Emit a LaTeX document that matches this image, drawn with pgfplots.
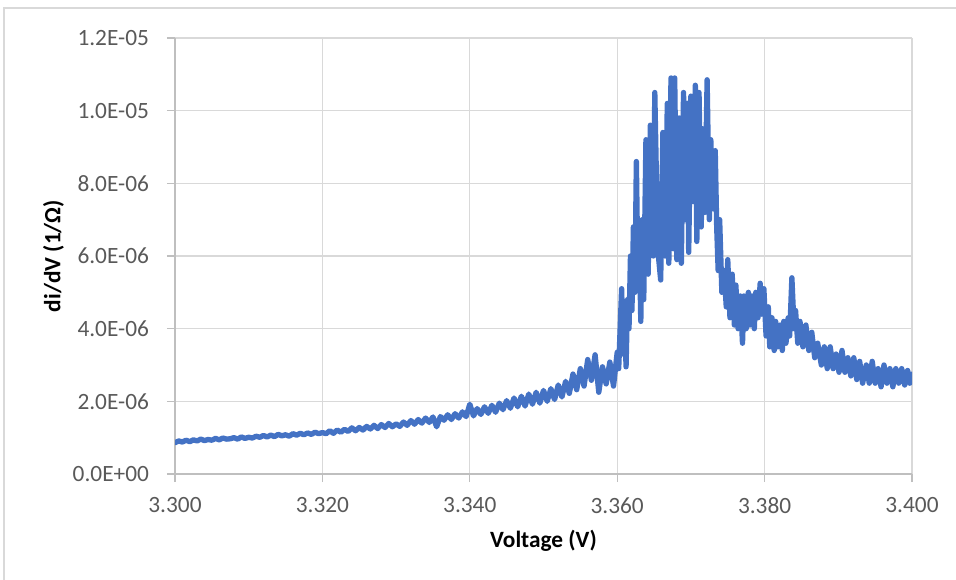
\documentclass[border=0pt]{standalone}
\usepackage{pgfplots}
\pgfplotsset{compat=1.18}
\usepackage{pgfplotstable}
\usepackage{fontspec}
\setmainfont{Carlito}
\definecolor{linebl}{RGB}{68,114,196}
\definecolor{gridc}{RGB}{217,217,217}
\definecolor{axc}{RGB}{191,191,191}
\definecolor{txt}{RGB}{89,89,89}

\pgfplotstableread{
x y
3.3000 0.86
3.3005 0.91
3.3010 0.88
3.3015 0.93
3.3020 0.89
3.3025 0.94
3.3030 0.91
3.3035 0.96
3.3040 0.92
3.3045 0.95
3.3050 0.93
3.3055 0.98
3.3060 0.94
3.3065 0.99
3.3070 0.96
3.3075 0.97
3.3080 1.00
3.3085 0.96
3.3090 1.02
3.3095 0.98
3.3100 1.01
3.3105 0.99
3.3110 1.04
3.3115 1.01
3.3120 1.06
3.3125 1.02
3.3130 1.07
3.3135 1.03
3.3140 1.09
3.3145 1.05
3.3150 1.08
3.3155 1.04
3.3160 1.11
3.3165 1.07
3.3170 1.12
3.3175 1.08
3.3180 1.13
3.3185 1.09
3.3190 1.15
3.3195 1.11
3.3200 1.14
3.3205 1.11
3.3210 1.19
3.3215 1.12
3.3220 1.21
3.3225 1.15
3.3230 1.23
3.3235 1.17
3.3240 1.27
3.3245 1.19
3.3250 1.28
3.3255 1.21
3.3260 1.31
3.3265 1.24
3.3270 1.34
3.3275 1.25
3.3280 1.36
3.3285 1.28
3.3290 1.39
3.3295 1.30
3.3300 1.38
3.3305 1.31
3.3310 1.43
3.3315 1.34
3.3320 1.47
3.3325 1.37
3.3330 1.50
3.3335 1.40
3.3340 1.54
3.3345 1.42
3.3350 1.57
3.3355 1.30
3.3360 1.58
3.3365 1.48
3.3370 1.63
3.3375 1.50
3.3380 1.66
3.3385 1.54
3.3390 1.71
3.3395 1.58
3.3400 1.92
3.3405 1.60
3.3410 1.80
3.3415 1.64
3.3420 1.85
3.3425 1.67
3.3430 1.89
3.3435 1.70
3.3440 1.95
3.3445 1.77
3.3450 2.02
3.3455 1.81
3.3460 2.09
3.3465 1.85
3.3470 2.14
3.3475 1.87
3.3480 2.20
3.3485 1.92
3.3490 2.25
3.3495 1.95
3.3500 2.30
3.3505 2.00
3.3510 2.35
3.3515 2.05
3.3520 2.45
3.3525 2.12
3.3530 2.55
3.3535 2.22
3.3540 2.75
3.3545 2.32
3.3550 2.90
3.3555 2.42
3.3560 3.15
3.3565 2.58
3.3570 3.28
3.3575 2.25
3.3580 2.95
3.3585 2.48
3.3590 3.08
3.3595 2.42
3.3600 3.35
3.3602 2.90
3.3604 4.00
3.3606 5.10
3.3608 3.30
3.3610 4.60
3.3612 2.95
3.3614 4.80
3.3616 4.00
3.3618 6.00
3.3620 4.50
3.3622 6.80
3.3624 5.00
3.3626 8.60
3.3628 5.50
3.3630 6.50
3.3632 4.20
3.3634 7.00
3.3636 4.80
3.3639 9.20
3.3642 5.50
3.3645 9.60
3.3649 6.00
3.3651 10.50
3.3655 6.20
3.3659 5.34
3.3662 9.40
3.3665 6.00
3.3668 10.20
3.3670 5.80
3.3673 10.90
3.3676 6.20
3.3678 10.90
3.3681 5.90
3.3684 9.80
3.3687 5.80
3.3690 10.50
3.3692 7.00
3.3695 10.20
3.3697 6.10
3.3700 10.40
3.3703 7.50
3.3706 10.70
3.3708 6.40
3.3711 10.50
3.3714 6.80
3.3716 9.50
3.3719 7.20
3.3722 10.85
3.3725 7.00
3.3727 9.20
3.3730 7.30
3.3733 8.90
3.3735 6.80
3.3737 5.60
3.3739 7.00
3.3742 5.00
3.3745 5.60
3.3748 4.60
3.3750 5.90
3.3753 4.30
3.3756 5.50
3.3759 4.10
3.3761 5.20
3.3764 4.00
3.3767 4.90
3.3770 3.60
3.3772 4.90
3.3775 4.00
3.3778 5.00
3.3780 4.10
3.3783 4.90
3.3786 4.00
3.3788 5.00
3.3791 4.30
3.3794 5.25
3.3796 4.40
3.3799 5.10
3.3802 3.80
3.3805 4.60
3.3807 3.50
3.3810 4.30
3.3813 3.40
3.3815 4.20
3.3818 3.50
3.3821 4.10
3.3824 3.40
3.3826 4.20
3.3829 3.60
3.3832 4.30
3.3834 3.80
3.3837 5.40
3.3840 4.00
3.3842 4.50
3.3845 3.60
3.3848 4.20
3.3852 3.50
3.3856 4.10
3.3860 3.40
3.3864 3.90
3.3868 3.20
3.3872 3.60
3.3877 3.00
3.3881 3.50
3.3885 2.90
3.3889 3.50
3.3893 2.90
3.3897 3.30
3.3901 2.80
3.3905 3.40
3.3909 2.80
3.3913 3.20
3.3917 2.70
3.3921 3.20
3.3925 2.60
3.3929 3.10
3.3933 2.50
3.3938 3.00
3.3942 2.50
3.3946 3.10
3.3950 2.50
3.3954 2.90
3.3958 2.40
3.3962 3.00
3.3966 2.50
3.3970 2.90
3.3974 2.40
3.3978 2.90
3.3982 2.50
3.3986 2.90
3.3990 2.45
3.3994 2.85
3.3997 2.50
3.4000 2.75
}\datatable

\begin{document}
\begin{tikzpicture}
\path[use as bounding box] (0,0) rectangle (717pt,434.25pt);
\draw[gridc, line width=1pt] (3pt,-1pt) -- (3pt,428.25pt) -- (718pt,428.25pt);
\begin{axis}[
  at={(131.25pt,78.75pt)}, anchor=origin,
  scale only axis,
  width=552.75pt, height=327pt,
  xmin=3.3, xmax=3.4, ymin=0, ymax=12,
  xtick={3.30,3.32,3.34,3.36,3.38,3.40},
  ytick={0,2,4,6,8,10,12},
  yticklabels={0.0E+00,2.0E-06,4.0E-06,6.0E-06,8.0E-06,1.0E-05,1.2E-05},
  scaled x ticks=false,
  grid=major,
  major grid style={gridc, line width=1pt},
  axis lines=left,
  axis line style={axc, line width=1pt, -},
  tick align=outside,
  major tick length=6pt,
  tick style={axc, line width=1pt},
  ticklabel style={font=\fontsize{17.5}{20}\selectfont, text=txt},
  xticklabel style={yshift=-8pt, /pgf/number format/fixed, /pgf/number format/fixed zerofill, /pgf/number format/precision=3, /pgf/number format/assume math mode=true},
  yticklabel style={xshift=-10pt},
  xlabel={Voltage (V)},
  ylabel={di/dV (1/Ω)},
  label style={font=\bfseries\fontsize{17.5}{20}\selectfont, text=black},
  xlabel style={at={(axis description cs:0.5,-0.154)}, anchor=center},
  ylabel style={at={(axis description cs:-0.165,0.5)}, anchor=center},
  clip=true,
]
\addplot[linebl, line width=4pt, line join=round, line cap=round] table[x=x,y=y] {\datatable};
\end{axis}
\end{tikzpicture}
\end{document}
